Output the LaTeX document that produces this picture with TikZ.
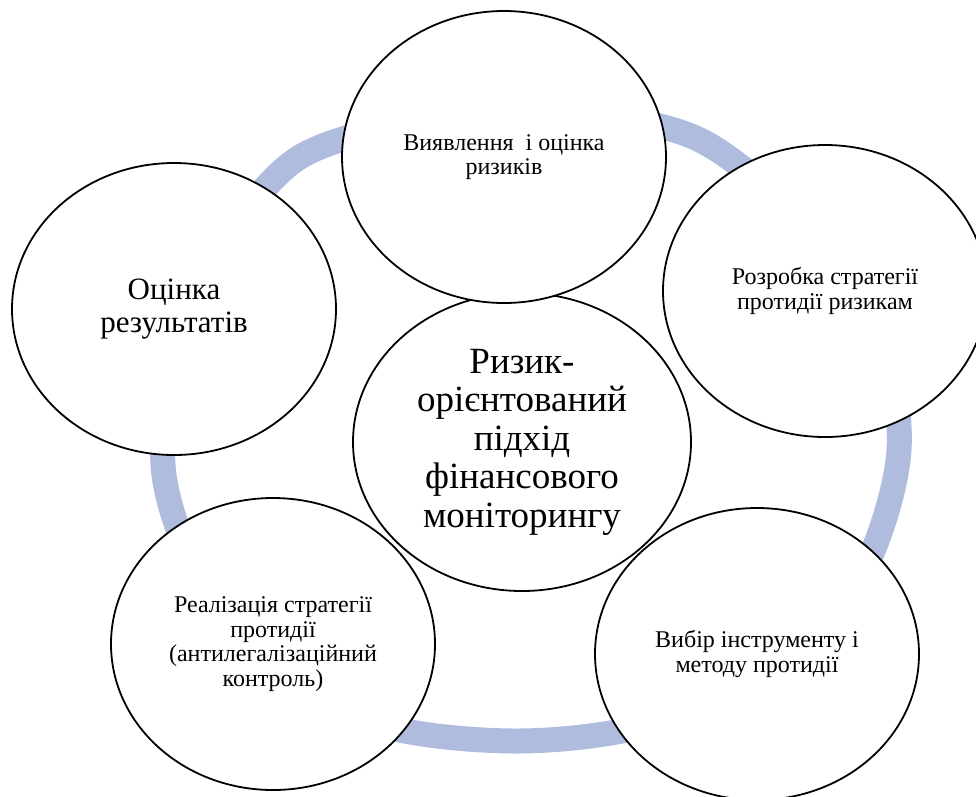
\documentclass[tikz,border=0pt]{standalone}
\usepackage{fontspec}
\setmainfont{Liberation Serif}
\usetikzlibrary{shapes.geometric}
\definecolor{ringblue}{RGB}{175,188,222}
\tikzset{
  bubble/.style={ellipse, draw=black, line width=1.8pt, fill=white, inner sep=0pt,
    minimum width=324pt, minimum height=292pt, align=center,
    font=\fontsize{24}{24.5}\selectfont},
  hub/.style={bubble, minimum width=338pt, minimum height=298pt,
    font=\fontsize{37}{38.5}\selectfont},
  ring/.style={draw=ringblue, line width=25pt}
}
\begin{document}
\begin{tikzpicture}[x=1pt,y=-1pt]
\useasboundingbox (0,0) rectangle (976,796);
% ring behind the circles
\draw[ring] plot[smooth cycle] coordinates {(163,465) (195,300) (300,157) (500,113) (700,140) (860,290) (899,450) (840,610) (680,715) (517,741) (350,715) (215,600)};
% central circle
\node[hub] (hub) at (522,442) {Ризик-\\орієнтований\\підхід\\фінансового\\моніторингу};
% outer circles
\node[bubble] (top) at (504,157) {Виявлення\ \ і оцінка\\ризиків};
\node[bubble] (ru) at (825,291) {Розробка стратегії\\протидії ризикам};
\node[bubble] (rl) at (757,654) {Вибір інструменту і\\методу протидії};
\node[bubble] (ll) at (273,644) {Реалізація стратегії\\протидії\\(антилегалізаційний\\контроль)};
\node[bubble, font=\fontsize{31}{33}\selectfont] (lu) at (174,309) {Оцінка\\результатів};
\end{tikzpicture}
\end{document}
